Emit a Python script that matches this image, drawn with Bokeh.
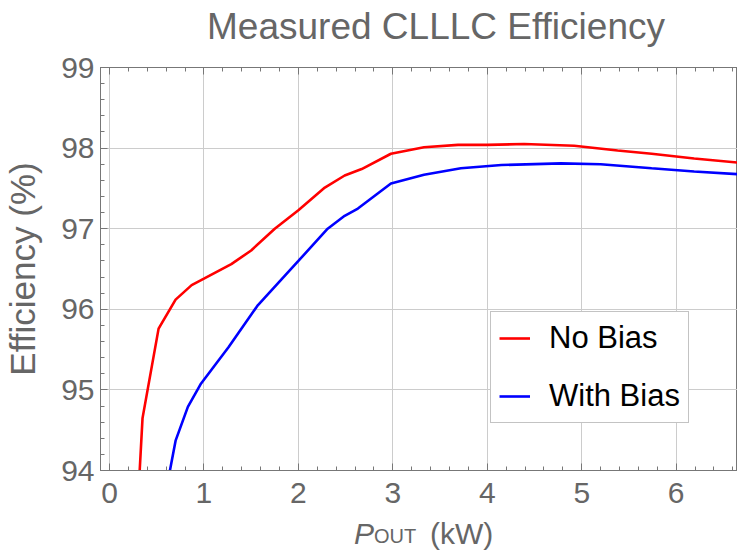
from bokeh.plotting import figure
from bokeh.layouts import column
from bokeh.models import FixedTicker, LinearAxis, Legend, LegendItem, Range1d
from bokeh.core.properties import value
from bokeh.embed import file_html
from bokeh.resources import INLINE

# Data
no_bias_x = [0.32, 0.35, 0.52, 0.70, 0.87, 1.0, 1.29, 1.5, 1.75, 2.0, 2.28, 2.49, 2.67, 2.98,
             3.33, 3.69, 4.0, 4.39, 4.92, 5.38, 5.74, 6.19, 6.74]
no_bias_y = [94.0, 94.65, 95.76, 96.12, 96.30, 96.38, 96.56, 96.73, 97.0, 97.23, 97.51, 97.66,
             97.74, 97.93, 98.01, 98.04, 98.04, 98.05, 98.03, 97.97, 97.93, 97.87, 97.81]
with_bias_x = [0.64, 0.70, 0.83, 0.97, 1.26, 1.57, 1.71, 2.0, 2.31, 2.49, 2.63, 2.98, 3.33,
               3.72, 4.15, 4.78, 5.2, 5.74, 6.19, 6.74]
with_bias_y = [94.0, 94.37, 94.79, 95.08, 95.53, 96.05, 96.23, 96.6, 97.0, 97.16, 97.25, 97.56,
               97.67, 97.75, 97.79, 97.81, 97.80, 97.75, 97.71, 97.67]
x_ticks = [0, 1, 2, 3, 4, 5, 6]
y_ticks = [94, 95, 96, 97, 98, 99]
series_names = ["No Bias", "With Bias"]
title_text = "Measured CLLLC Efficiency"
y_label = "Efficiency (%)"
x_label_parts = ["P", "OUT", "(kW)"]

FONT = "Liberation Sans"
GRAY = "#666666"
W = 737

xr = Range1d(-0.095, 6.649)

def strip(h):
    s = figure(width=W, height=h, x_range=xr, y_range=Range1d(0, h), title=None,
               output_backend="svg", toolbar_location=None,
               x_axis_type=None, y_axis_type=None,
               min_border_left=99, min_border_right=0, min_border_top=0, min_border_bottom=0)
    s.outline_line_color = None
    s.xgrid.visible = False
    s.ygrid.visible = False
    return s

# title strip
t = strip(49)
t.text(x=[3.457], y=[23.5], text=[title_text], text_font=value(FONT), text_font_size="37px",
       text_color=GRAY, text_align="center", text_baseline="alphabetic")

p = figure(width=W, height=466, x_range=xr, y_range=Range1d(94, 99), title=None,
           output_backend="svg", toolbar_location=None,
           min_border_left=99, min_border_right=0, min_border_top=18, min_border_bottom=45)

x_minor = [round(i * 0.2, 1) for i in range(0, 34)]
y_minor = [round(94 + i * 0.2, 1) for i in range(0, 26)]
xt = FixedTicker(ticks=x_ticks, minor_ticks=x_minor)
yt = FixedTicker(ticks=y_ticks, minor_ticks=y_minor)

def style_axis(ax):
    ax.major_tick_in = 7
    ax.major_tick_out = 0
    ax.minor_tick_in = 4
    ax.minor_tick_out = 0
    ax.axis_line_color = "#777777"
    ax.major_tick_line_color = "#777777"
    ax.minor_tick_line_color = "#777777"
    ax.major_label_text_font = FONT
    ax.major_label_text_font_size = "30px"
    ax.major_label_text_color = GRAY

xa = p.xaxis[0]
xa.ticker = xt
style_axis(xa)
xa.major_label_standoff = 12

ya = p.yaxis[0]
ya.ticker = yt
style_axis(ya)
ya.major_label_standoff = 6
ya.axis_label = y_label
ya.axis_label_text_font = FONT
ya.axis_label_text_font_size = "35px"
ya.axis_label_text_font_style = "normal"
ya.axis_label_text_color = GRAY
ya.axis_label_standoff = 16

top = LinearAxis(ticker=xt)
style_axis(top)
top.major_label_overrides = {tk: "" for tk in x_ticks}
top.major_label_text_font_size = "1px"
top.major_label_standoff = 0
p.add_layout(top, "above")

p.xgrid.ticker = xt
p.ygrid.ticker = yt
p.xgrid.grid_line_color = "#cccccc"
p.ygrid.grid_line_color = "#cccccc"
p.outline_line_color = "#777777"

r1 = p.line(no_bias_x, no_bias_y, line_color="#ff0000", line_width=2.6)
r2 = p.line(with_bias_x, with_bias_y, line_color="#0000ff", line_width=2.6)

legend = Legend(items=[LegendItem(label=series_names[0], renderers=[r1]),
                       LegendItem(label=series_names[1], renderers=[r2])],
                location=(390, 47))
legend.label_text_font = FONT
legend.label_text_font_size = "31px"
legend.label_text_color = "black"
legend.border_line_color = "#888888"
legend.background_fill_color = "white"
legend.background_fill_alpha = 1
legend.glyph_width = 31
legend.glyph_height = 20
legend.label_standoff = 19
legend.spacing = 22
legend.padding = 8
legend.margin = 0
p.add_layout(legend)

# strip below the plot holding the x-axis title: P (italic) with subscript OUT, then (kW)
q = strip(36)
q.text(x=[2.59], y=[18], text=[x_label_parts[0]], text_font=value(FONT), text_font_size="30px",
       text_font_style="italic", text_color=GRAY, text_baseline="alphabetic")
q.text(x=[2.80], y=[16], text=[x_label_parts[1]], text_font=value(FONT), text_font_size="20px",
       text_color=GRAY, text_baseline="alphabetic")
q.text(x=[3.393], y=[18], text=[x_label_parts[2]], text_font=value(FONT), text_font_size="30px",
       text_color=GRAY, text_baseline="alphabetic")

layout = column(t, p, q, spacing=0)
open("out.html", "w").write(file_html(layout, INLINE))
